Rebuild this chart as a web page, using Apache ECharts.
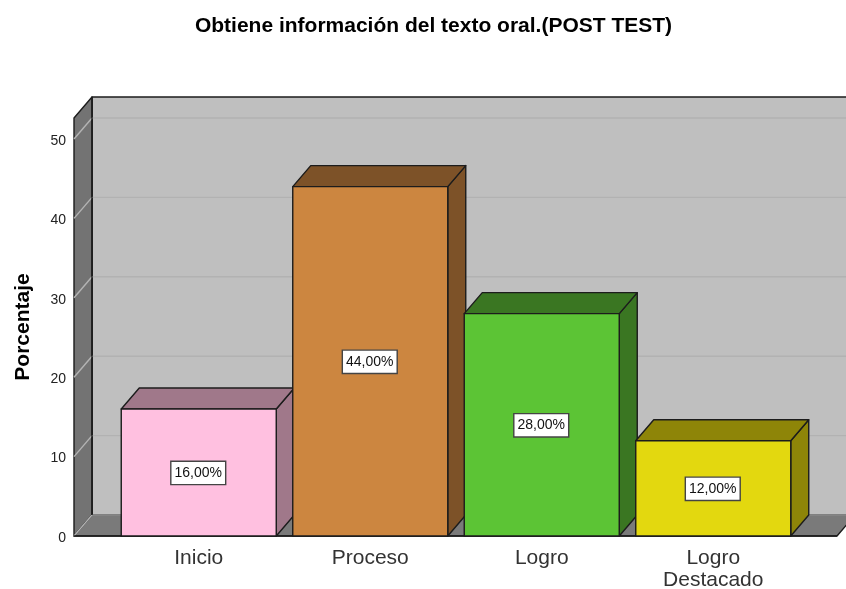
<!DOCTYPE html>
<html>
<head>
<meta charset="utf-8">
<style>html,body{margin:0;padding:0;background:#fff}#c{width:846px;height:589px}</style>
<script src="https://cdn.jsdelivr.net/npm/echarts@6/dist/echarts.min.js"></script>
</head>
<body>
<div id="c"></div>
<script>
const titleText = 'Obtiene información del texto oral.(POST TEST)';
const yName = 'Porcentaje';
const categories = ['Inicio', 'Proceso', 'Logro', 'Logro\nDestacado'];
const values = [16, 44, 28, 12];
const yTicks = [0, 10, 20, 30, 40, 50];
const frontColors = ['#FFC0E0', '#CC8640', '#5CC435', '#E3D80F'];
const sideColors = ['#A0788A', '#7D5228', '#3A7622', '#8E8508'];

const DX = 18, DY = 21, BAR_W = 155, PAD_L = 39, PAD_R = 38;
const EDGE = '#1c1c1c';
const font = '"Liberation Sans", Arial, sans-serif';
const chart = echarts.init(document.getElementById('c'), null, {renderer: 'canvas'});

function poly(points, fill, z2, stroke, lw) {
  return {type: 'polygon', z2, shape: {points},
    style: {fill, stroke: stroke || EDGE, lineWidth: lw === undefined ? 1.4 : lw, lineJoin: 'round'}};
}
function line(x1, y1, x2, y2, color, z2) {
  return {type: 'line', z2, shape: {x1, y1, x2, y2}, style: {stroke: color, lineWidth: 1.4}};
}

function renderWalls(params, api) {
  const g = params.coordSys;
  const L = g.x - PAD_L, R = g.x + g.width + PAD_R, T = g.y, B = g.y + g.height;
  const kids = [
    poly([[L + DX, T - DY], [R + DX, T - DY], [R + DX, B - DY], [L + DX, B - DY]], '#BFBFBF', 1),
    poly([[L, T], [L + DX, T - DY], [L + DX, B - DY], [L, B]], '#737373', 2),
    poly([[L, B], [L + DX, B - DY], [R + DX, B - DY], [R, B]], '#7A7A7A', 2)
  ];
  yTicks.forEach(t => {
    const y = api.coord([0, t])[1];
    kids.push(line(L, y, L + DX, y - DY, '#B4B4B4', 3));
    if (t > 0) kids.push(line(L + DX, y - DY, R + DX, y - DY, '#B2B2B2', 3));
  });
  kids.push(line(L + DX, T - DY, L + DX, B - DY, EDGE, 4));
  kids.push(line(L + DX, B - DY, R + DX, B - DY, '#A0A0A0', 3));
  kids.push(line(L, B, R, B, EDGE, 4));
  return {type: 'group', children: kids};
}

function renderBar(params, api) {
  const i = api.value(0), v = api.value(1);
  const base = api.coord([i, 0]), top = api.coord([i, v]);
  const l = base[0] - BAR_W / 2, r = base[0] + BAR_W / 2, b = base[1], t = top[1];
  const text = v.toFixed(2).replace('.', ',') + '%';
  return {type: 'group', children: [
    poly([[r, t], [r + DX, t - DY], [r + DX, b - DY], [r, b]], sideColors[i], 10),
    poly([[l, t], [l + DX, t - DY], [r + DX, t - DY], [r, t]], sideColors[i], 10),
    poly([[l, t], [r, t], [r, b], [l, b]], frontColors[i], 11),
    {type: 'text', z2: 12, x: base[0] - 0.5, y: (t + b) / 2 + 0.5,
      style: {text, fill: '#111', font: '14px ' + font, align: 'center', verticalAlign: 'middle',
        backgroundColor: '#fff', borderColor: '#444', borderWidth: 1.4, padding: [6, 3, 2, 3]}}
  ]};
}

chart.setOption({
  animation: false,
  backgroundColor: '#fff',
  title: {text: titleText, left: 428.5, top: 11, textAlign: 'center',
    textStyle: {fontFamily: font, fontSize: 21, fontWeight: 'bold', color: '#000'}},
  grid: {left: 113, right: 47, top: 118, bottom: 53, containLabel: false, outerBoundsMode: 'none'},
  xAxis: {type: 'category', data: categories, axisLine: {show: false}, axisTick: {show: false},
    splitLine: {show: false},
    axisLabel: {fontFamily: font, fontSize: 21, color: '#333', margin: 11, lineHeight: 22, interval: 0}},
  yAxis: {type: 'value', min: 0, max: 52.64, interval: 10, offset: 39,
    name: yName, nameLocation: 'middle', nameGap: 40, nameRotate: 90,
    nameTextStyle: {fontFamily: font, fontSize: 21, fontWeight: 'bold', color: '#000'},
    axisLine: {show: false}, axisTick: {show: false}, splitLine: {show: false},
    axisLabel: {fontFamily: font, fontSize: 14, color: '#222', margin: 8, showMaxLabel: false,
      verticalAlign: 'top', padding: [-5, 0, 0, 0]}},
  series: [
    {type: 'custom', silent: true, clip: false, z: 1, renderItem: renderWalls, data: [[0, 0]], encode: {x: 0, y: 1}},
    {type: 'custom', silent: true, clip: false, z: 2, renderItem: renderBar,
      data: values.map((v, i) => [i, v]), encode: {x: 0, y: 1}}
  ]
});
</script>
</body>
</html>
